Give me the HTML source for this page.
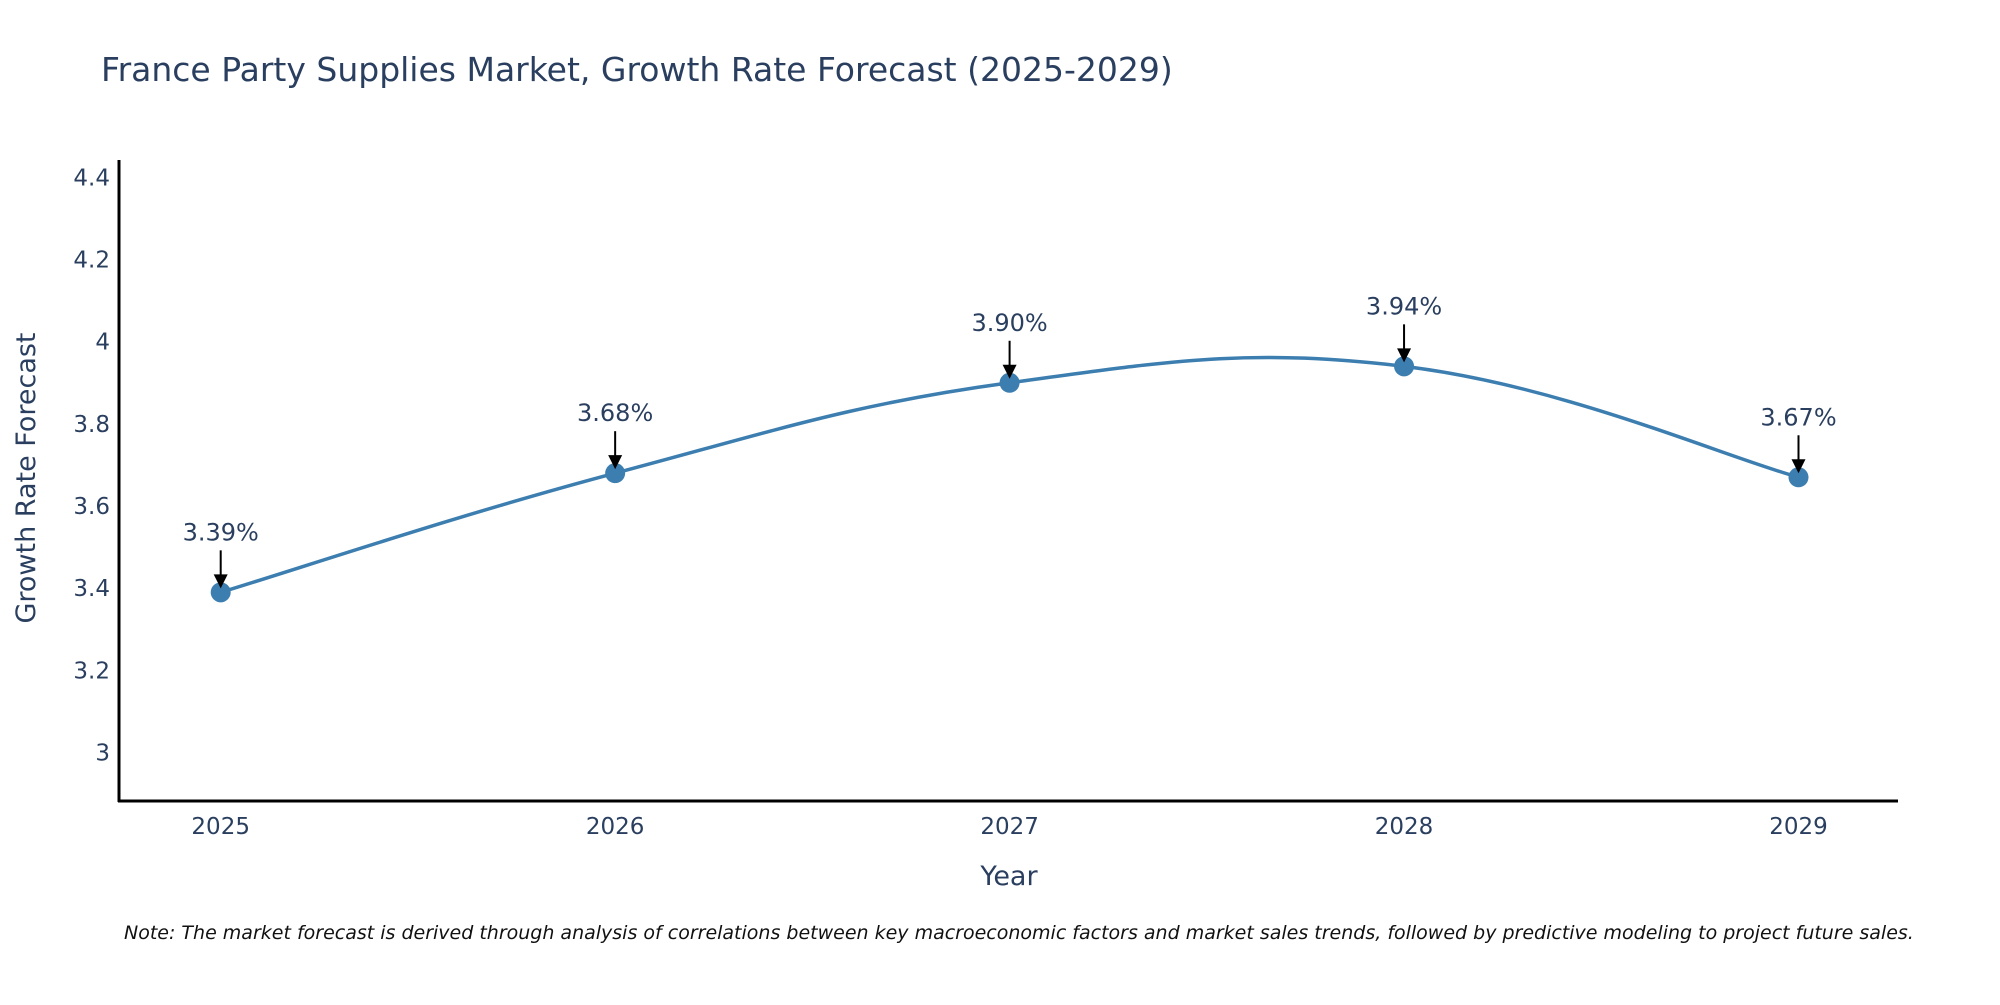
<!DOCTYPE html>
<html><head><meta charset="utf-8"><style>
body{margin:0;background:#fff;}
svg text{font-family:"DejaVu Sans","Liberation Sans",sans-serif;fill:#2a3f5f;}
</style></head><body>
<svg id="chart" width="2000" height="1000" xmlns="http://www.w3.org/2000/svg">
<text x="101" y="81" font-size="33">France Party Supplies Market, Growth Rate Forecast (2025-2029)</text>
<g id="yticks"></g>
<g id="xticks"></g>
<line x1="119" y1="160" x2="119" y2="802" stroke="#000" stroke-width="3"/>
<line x1="118" y1="801" x2="1898" y2="801" stroke="#000" stroke-width="3"/>
<text transform="translate(35,478) rotate(-90)" text-anchor="middle" font-size="27">Growth Rate Forecast</text>
<text x="1009" y="885" text-anchor="middle" font-size="27">Year</text>
<g id="series"></g>
<g id="annots"></g>
<text x="124" y="939" font-size="19" font-style="italic" style="fill:#111">Note: The market forecast is derived through analysis of correlations between key macroeconomic factors and market sales trends, followed by predictive modeling to project future sales.</text>
</svg>
<script>
const categories = ["2025","2026","2027","2028","2029"];
const values = [3.39, 3.68, 3.90, 3.94, 3.67];
const labels = ["3.39%","3.68%","3.90%","3.94%","3.67%"];
const yTicks = [3, 3.2, 3.4, 3.6, 3.8, 4, 4.2, 4.4];
const yTickLabels = ["3","3.2","3.4","3.6","3.8","4","4.2","4.4"];
const NS="http://www.w3.org/2000/svg";
function xs(i){return 220.7 + i*(1798.5-220.7)/(categories.length-1);}
function ys(v){return 752.6 - (v-3)*(752.6-177.3)/1.4;}
function mk(tag,attrs,parent){const e=document.createElementNS(NS,tag);for(const k in attrs)e.setAttribute(k,attrs[k]);parent.appendChild(e);return e;}
const yg=document.getElementById('yticks');
yTicks.forEach((t,i)=>{const e=mk('text',{x:110,y:ys(t)+8,'text-anchor':'end','font-size':23},yg);


e.textContent=yTickLabels[i];});
const xg=document.getElementById('xticks');
categories.forEach((c,i)=>{const e=mk('text',{x:xs(i),y:834,'text-anchor':'middle','font-size':23},xg);


e.textContent=c;});
const pts=values.map((v,i)=>[xs(i),ys(v)]);
let d='M'+pts[0][0]+','+pts[0][1];
const s=0.2;
for(let i=0;i<pts.length-1;i++){
 const p0=pts[Math.max(i-1,0)],p1=pts[i],p2=pts[i+1],p3=pts[Math.min(i+2,pts.length-1)];
 const c1=[p1[0]+(p2[0]-p0[0])*s,p1[1]+(p2[1]-p0[1])*s];
 const c2=[p2[0]-(p3[0]-p1[0])*s,p2[1]-(p3[1]-p1[1])*s];
 d+=' C'+c1[0]+','+c1[1]+' '+c2[0]+','+c2[1]+' '+p2[0]+','+p2[1];
}
const sg=document.getElementById('series');
const line=mk('path',{d:d,fill:'none',stroke:'#3d7eb0','stroke-width':3.5},sg);


const ag=document.getElementById('annots');
pts.forEach((p,i)=>{
 const c=mk('circle',{cx:p[0],cy:p[1],r:10,fill:'#3d7eb0'},sg);
 
 
 const a=mk('line',{x1:p[0],y1:p[1]-42,x2:p[0],y2:p[1]-14,stroke:'#000','stroke-width':2},ag);
 
 
 const h=mk('path',{d:`M${p[0]-7},${p[1]-18} L${p[0]+7},${p[1]-18} L${p[0]},${p[1]-4} Z`,fill:'#000'},ag);
 
 
 const t=mk('text',{x:p[0],y:p[1]-52,'text-anchor':'middle','font-size':24},ag);
 
 
 t.textContent=labels[i];
});
</script>
</body></html>
